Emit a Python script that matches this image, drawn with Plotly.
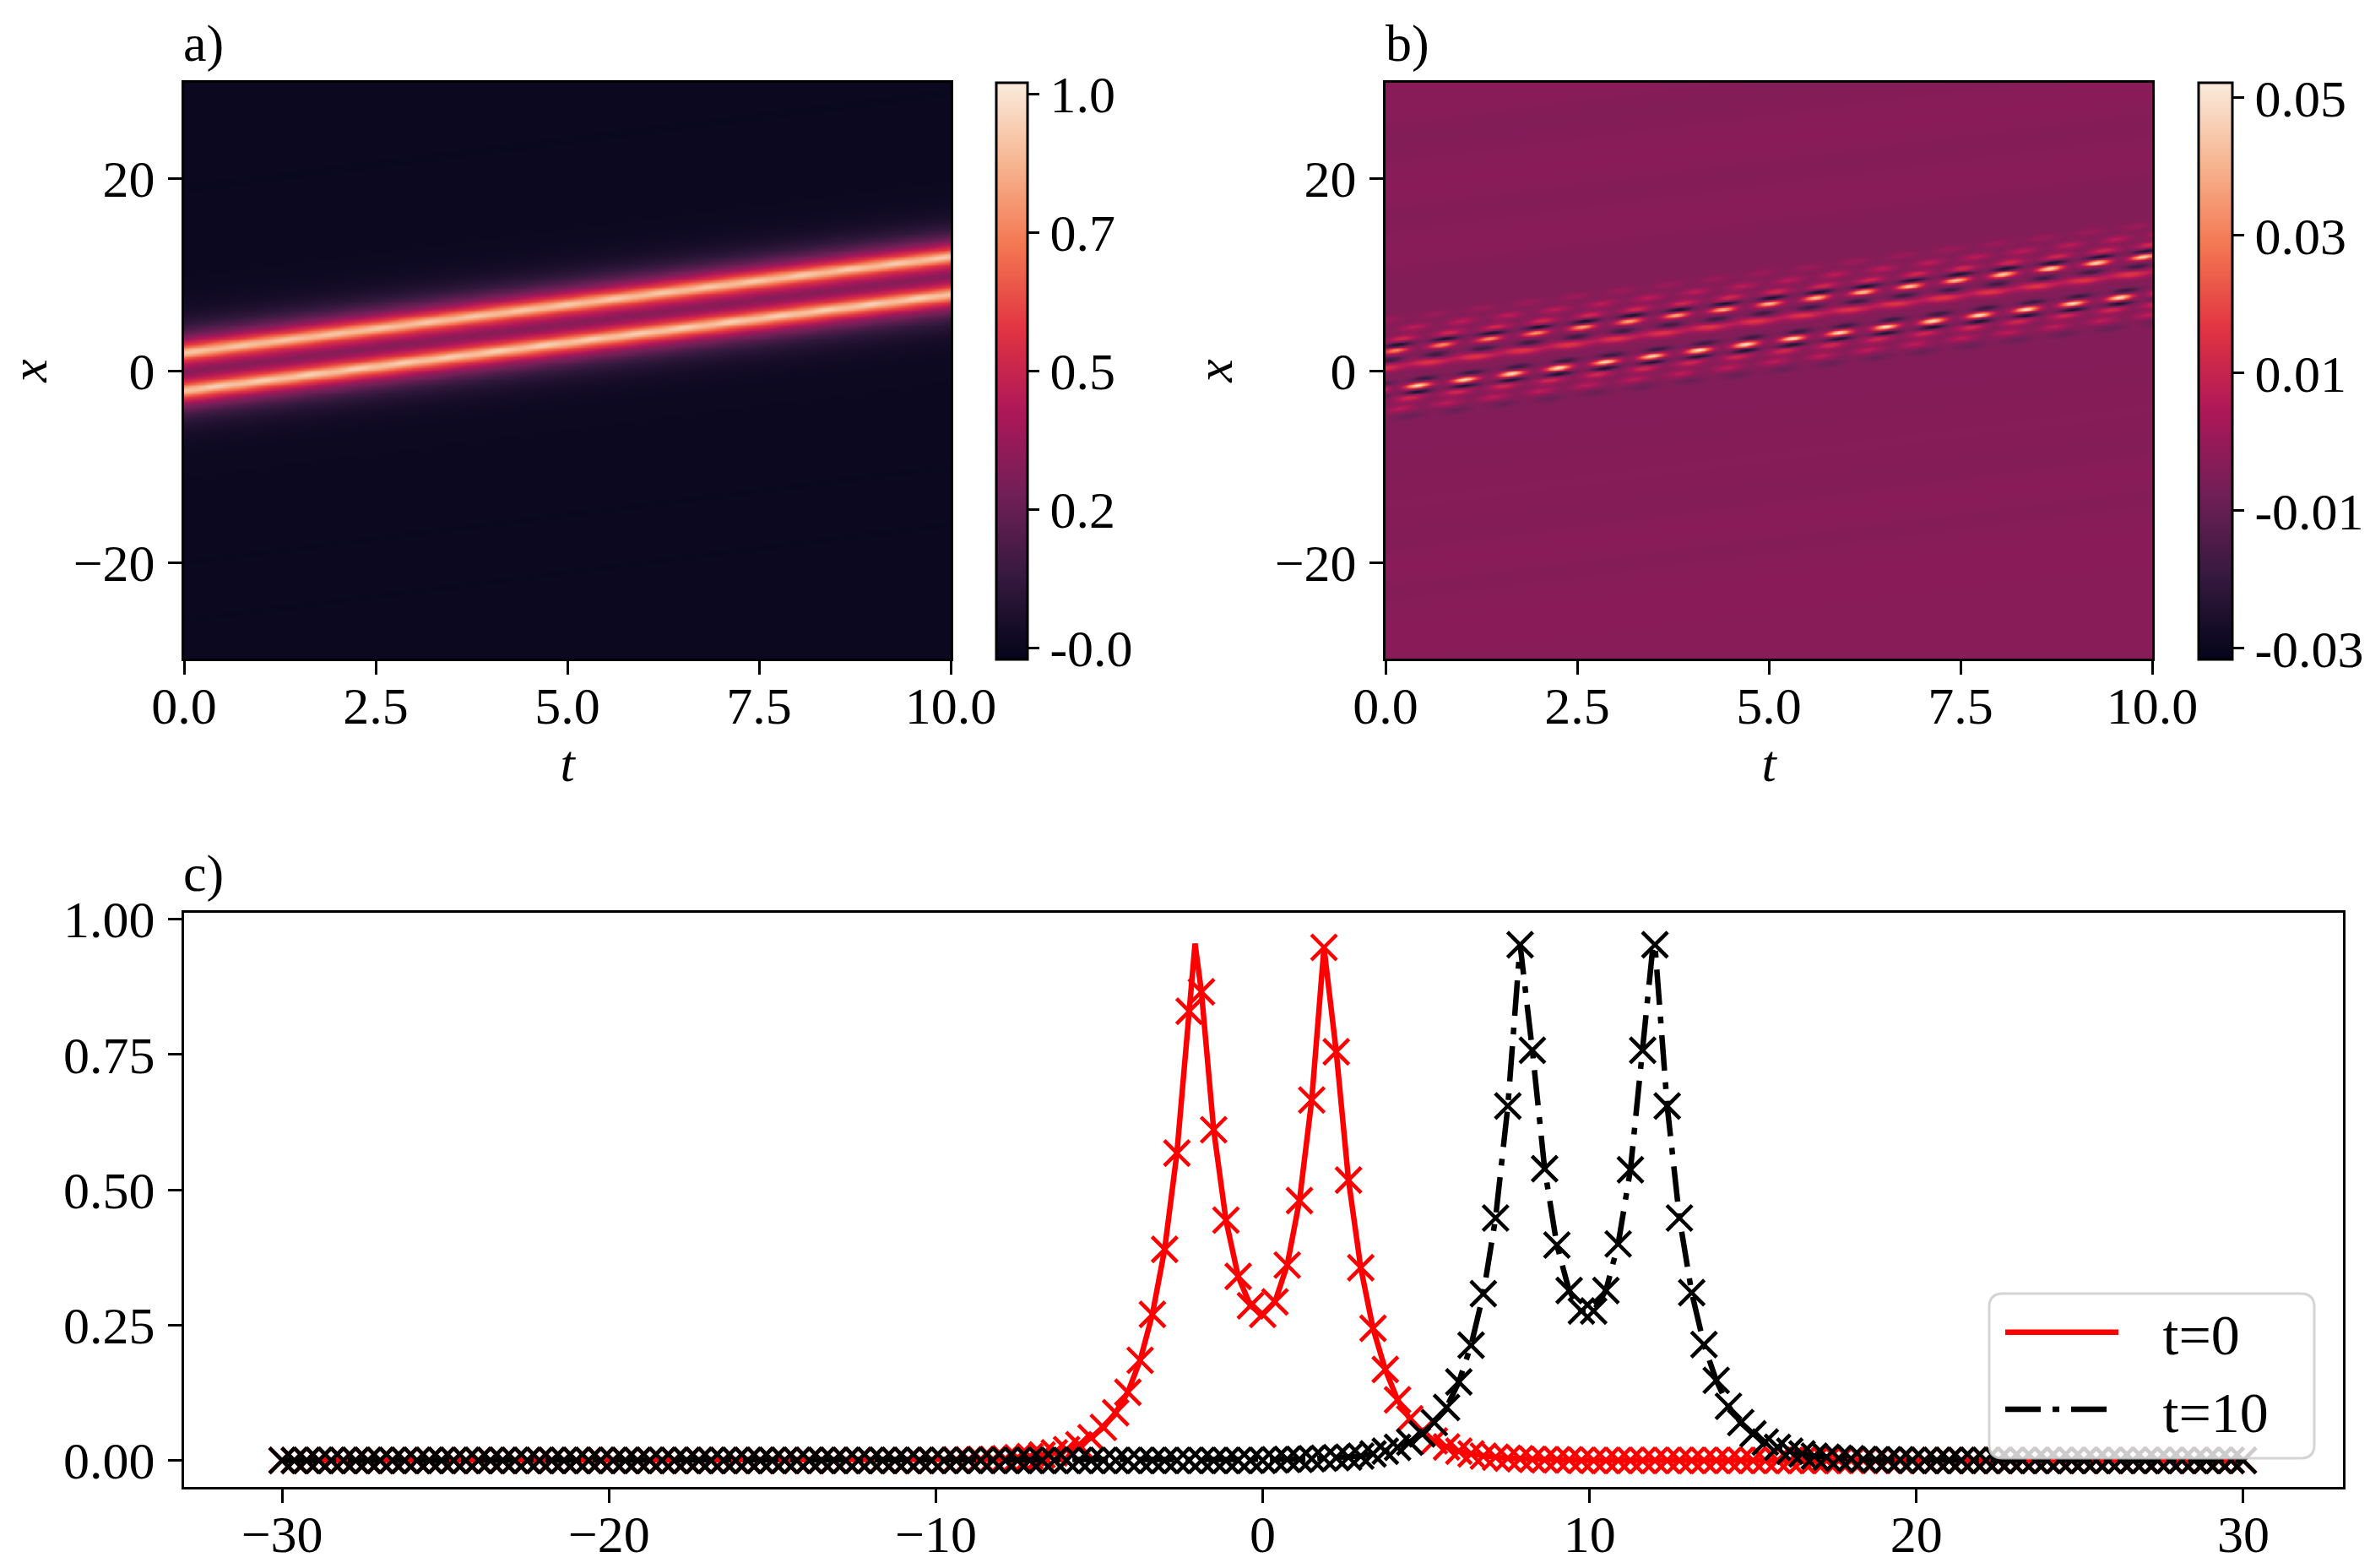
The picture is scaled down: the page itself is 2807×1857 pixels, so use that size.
import numpy as np
import plotly.graph_objects as go

W, H = 2807, 1857
FONT = "Liberation Serif"
FS = 62

# ---------- panel c: values ----------
x_step = 0.375
x_first = -30.0
n_points = 161

red_left_zeros = 55
red_core = [.001,.001,.002,.002,.003,.005,.007,.010,.014,.020,.029,.042,.061,.088,.126,.185,.27,.39,.568,.83,
            .866,.611,.444,.34,.286,.27,.293,.361,.48,.666,.948,.755,.518,.356,.244,.168,.112,.077,.053,.036,
            .025,.017,.012,.008,.006,.004,.003,.002,.001,.001,.001]
black_left_zeros = 81
black_core = [.001,.002,.002,.003,.004,.005,.006,.008,.012,.017,.024,.034,.049,.07,.098,.145,.213,.308,.448,.655,
              .953,.758,.539,.398,.314,.276,.276,.314,.40,.537,.758,.953,.655,.448,.31,.214,.148,.10,.07,.049,
              .034,.024,.017,.012,.008,.006,.004,.003,.002,.001,.001,.001]
red_peak_x, red_peak_y = [-2.07], [.955]
black_peak_x, black_peak_y = [11.93], [.945]

# ---------- panels a, b: features ----------
# lattice of blobs that travel with the pulse: offset x-t, phase in t, amplitude, widths
spot_period = 0.61
blob_offset = [-1.93, -2.58, -1.27, -3.09, 0.29, 0.45, 1.08, 3.17, 4.2, -4.1, 5.3, -5.0, 2.58]
blob_phase  = [0.42, 0.41, 0.50, 0.31, 0.03, 0.42, 0.04, 0.21, 0.37, 0.18, 0.02, 0.30, 0.16]
blob_amp    = [.054, -.023, -.015, .016, .015, .012, -.014, .016, .011, .011, .005, -.005, -.023]
blob_sig_t  = [.115, .125, .125, .14, .15, .15, .125, .135, .135, .135, .135, .135, .125]
blob_sig_x  = [.20, .17, .20, .26, .28, .28, .23, .24, .24, .24, .24, .24, .17]
# upper bright row, its amplitude grows with t
upper_offset, upper_phase = 2.0, 0.12
upper_amp_t = [0, 5, 10]
upper_amp   = [.036, .046, .054]
# faint background stripes: offset x-t and level, panel b
bg_level = -.0039
stripe_offset = [-31, -27, -23, -20.5, -18, -14, -8, -4, 5, 9, 12, 16, 19, 24, 27, 31]
stripe_level  = [.0010, .0012, .0002, .0012, .0001, .0005, 0, 0, 0, -.0003, .0010, .0001, .0012, -.0002, .0010, .0010]
# dark stripes in panel a
dark_offset = [19.0, 10.2, -20.0, -26.0]
dark_level  = [-.006, -.004, -.004, -.004]
# the plotted image is soft: ridge centres, ridge broadening and smoothing weights for panel a
ridge_centre = 2.0
ridge_broadening = 1.35
soft_weights = [1, 3, 6, 8, 6, 3, 1]

t_vals = np.arange(0, 10.0001, 0.05)
x_vals = np.arange(-31, 31.0001, 0.125)

x_axis_c = x_first + x_step * np.arange(n_points)
red_y = np.array([0.0] * red_left_zeros + red_core + [0.0] * (n_points - red_left_zeros - len(red_core)))
black_y = np.array([0.0] * black_left_zeros + black_core + [0.0] * (n_points - black_left_zeros - len(black_core)))


def with_peak(xs, ys, px, py):
    pairs = sorted(list(zip(xs.tolist(), ys.tolist())) + list(zip(px, py)))
    return [p[0] for p in pairs], [p[1] for p in pairs]


red_line_x, red_line_y = with_peak(x_axis_c, red_y, red_peak_x, red_peak_y)
black_line_x, black_line_y = with_peak(x_axis_c, black_y, black_peak_x, black_peak_y)

T, X = np.meshgrid(t_vals, x_vals)
O = X - T


def lattice(offset, phase, amp, sig_t, sig_x):
    d_o = (O - offset) / sig_x
    d_t = ((T - phase + spot_period / 2) % spot_period - spot_period / 2) / sig_t
    return amp * np.exp(-0.5 * (d_o ** 2 + d_t ** 2))


err = np.interp(O, stripe_offset, stripe_level)
for o_, p_, a_, st_, sx_ in zip(blob_offset, blob_phase, blob_amp, blob_sig_t, blob_sig_x):
    err = err + lattice(o_, p_, a_, st_, sx_)
err = err + lattice(upper_offset, upper_phase, np.interp(T, upper_amp_t, upper_amp), .115, .20)
z_b = err + bg_level

centre = np.sign(O) * ridge_centre
O_wide = centre + (O - centre) / ridge_broadening
profile = np.interp(O_wide, red_line_x, red_line_y, left=0, right=0)
kernel = np.array(soft_weights, dtype=float) / sum(soft_weights)
profile = np.apply_along_axis(lambda col: np.convolve(col, kernel, mode="same"), 0, profile)
z_a = profile + err + 0.003
for o_, l_ in zip(dark_offset, dark_level):
    z_a = z_a + l_ * np.exp(-0.5 * ((O - o_) / 0.35) ** 2)

rocket = [[0, "#03051a"], [1 / 7, "#35193e"], [2 / 7, "#701f57"], [3 / 7, "#ad1759"],
          [4 / 7, "#e13342"], [5 / 7, "#f37651"], [6 / 7, "#f6b48f"], [1, "#faebdd"]]

tickfont = dict(family=FONT, size=FS, color="black")


def px(v):
    return v / W


def py(v):
    return 1 - v / H


def colorbar(x_px, thick, vals, text):
    return dict(x=px(x_px), xanchor="left", xpad=0, y=py(98), yanchor="top", ypad=0,
                lenmode="pixels", len=683, thickness=thick, thicknessmode="pixels",
                outlinewidth=3, outlinecolor="black", ticks="outside", ticklen=13, tickwidth=3,
                tickcolor="black", tickvals=vals, ticktext=text, tickfont=tickfont)


fig = go.Figure()
fig.add_trace(go.Heatmap(x=t_vals, y=x_vals, z=z_a, colorscale=rocket, zmin=-0.021, zmax=1.02, zsmooth="best",
                         xaxis="x", yaxis="y", hoverinfo="skip",
                         colorbar=colorbar(1180, 37, [0, .25, .5, .75, 1.0], ["-0.0", "0.2", "0.5", "0.7", "1.0"])))
fig.add_trace(go.Heatmap(x=t_vals, y=x_vals, z=z_b, colorscale=rocket, zmin=-0.0316, zmax=0.0522, zsmooth="best",
                         xaxis="x2", yaxis="y2", hoverinfo="skip",
                         colorbar=colorbar(2604, 40, [-.03, -.01, .01, .03, .05], ["-0.03", "-0.01", "0.01", "0.03", "0.05"])))

fig.add_trace(go.Scatter(x=red_line_x, y=red_line_y, mode="lines", name="\u2002\u2009t=0", legendgroup="a",
                         line=dict(color="#ff0000", width=6.5), xaxis="x3", yaxis="y3"))
fig.add_trace(go.Scatter(x=x_axis_c, y=red_y, mode="markers", showlegend=False, xaxis="x3", yaxis="y3",
                         marker=dict(symbol="x-thin", size=30, color="#ff0000", line=dict(color="#ff0000", width=4.5))))
fig.add_trace(go.Scatter(x=black_line_x, y=black_line_y, mode="lines", name="\u2002\u2009t=10", legendgroup="b",
                         line=dict(color="black", width=6.5, dash="42px,14px,8px,14px"), xaxis="x3", yaxis="y3"))
fig.add_trace(go.Scatter(x=x_axis_c, y=black_y, mode="markers", showlegend=False, xaxis="x3", yaxis="y3",
                         marker=dict(symbol="x-thin", size=30, color="black", line=dict(color="black", width=4.5))))


def axis(domain, rng, anchor, tickvals, ticktext, label_shift, title=None, standoff=None):
    d = dict(domain=domain, range=rng, anchor=anchor, showgrid=False, zeroline=False, mirror=True,
             showline=True, linecolor="black", linewidth=3, ticks="outside", ticklen=16, tickwidth=3,
             tickcolor="black", tickfont=tickfont, tickvals=tickvals, ticktext=ticktext,
             ticklabelstandoff=label_shift)
    if title:
        d["title"] = dict(text=title, font=dict(family=FONT, size=FS, color="black"), standoff=standoff)
    return d


t_ticks = [0, 2.5, 5, 7.5, 10]
t_text = ["0.0", "2.5", "5.0", "7.5", "10.0"]
x_ticks = [-20, 0, 20]
x_text = ["\u221220", "0", "20"]
c_xt = [-30, -20, -10, 0, 10, 20, 30]
c_xl = ["\u221230", "\u221220", "\u221210", "0", "10", "20", "30"]
c_yt = [0, .25, .5, .75, 1.0]
c_yl = ["0.00", "0.25", "0.50", "0.75", "1.00"]

ax_top = [py(780), py(98)]
ax_bot = [py(1761), py(1081)]

# rounded legend box
lx0, lx1, ly0, ly1, r = px(2356), px(2741), py(1727), py(1532), 16
rx, ry = r / W, r / H
box = (f"M{lx0 + rx},{ly1} L{lx1 - rx},{ly1} Q{lx1},{ly1} {lx1},{ly1 - ry} L{lx1},{ly0 + ry} "
       f"Q{lx1},{ly0} {lx1 - rx},{ly0} L{lx0 + rx},{ly0} Q{lx0},{ly0} {lx0},{ly0 + ry} "
       f"L{lx0},{ly1 - ry} Q{lx0},{ly1} {lx0 + rx},{ly1} Z")


def label(text, x_px, y_px):
    return dict(text=text, xref="paper", yref="paper", x=px(x_px), y=py(y_px), xanchor="left", yanchor="bottom",
                showarrow=False, xshift=0, font=dict(family=FONT, size=FS, color="black"), borderpad=0)


fig.update_layout(
    width=W, height=H, autosize=False, margin=dict(l=0, r=0, t=0, b=0, autoexpand=False),
    paper_bgcolor="white", plot_bgcolor="white", font=dict(family=FONT, size=FS, color="black"),
    xaxis=axis([px(218), px(1126)], [0, 10], "y", t_ticks, t_text, -16, "<i>t</i>", 8),
    yaxis=axis(ax_top, [-30, 30], "x", x_ticks, x_text, 3, "<i>x</i>", 30),
    xaxis2=axis([px(1641), px(2549)], [0, 10], "y2", t_ticks, t_text, -16, "<i>t</i>", 8),
    yaxis2=axis(ax_top, [-30, 30], "x2", x_ticks, x_text, 3, "<i>x</i>", 30),
    xaxis3=axis([px(218), px(2775)], [-33, 33.05], "y3", c_xt, c_xl, -16),
    yaxis3=axis(ax_bot, [-0.049, 1.012], "x3", c_yt, c_yl, 3),
    legend=dict(x=px(2370), y=py(1527), xanchor="left", yanchor="top", bgcolor="rgba(0,0,0,0)",
                borderwidth=0, font=dict(family=FONT, size=68, color="black"), itemwidth=134,
                tracegroupgap=0, traceorder="normal"),
    shapes=[dict(type="path", path=box, xref="paper", yref="paper", layer="above",
                 fillcolor="rgba(255,255,255,0.8)", line=dict(color="rgba(204,204,204,0.85)", width=3))],
    annotations=[label("a)", 216, 87), label("b)", 1640, 87), label("c)", 216, 1070)],
)

fig.write_html("out.html", config=dict(displayModeBar=False),
               post_script="document.body.style.margin='0';document.documentElement.style.overflow='hidden';")
